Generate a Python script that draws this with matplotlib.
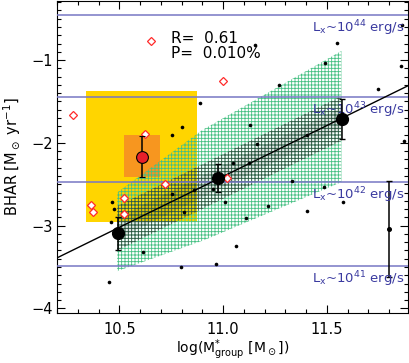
import matplotlib
matplotlib.use("Agg")
import matplotlib.pyplot as plt
from matplotlib.ticker import MultipleLocator
import numpy as np

plt.rcParams['font.family'] = ['DejaVu Sans']
plt.rcParams['mathtext.default'] = 'regular'
plt.rcParams['hatch.linewidth'] = 0.6

# ---- data ----
dots_x = [10.889, 10.80, 10.756, 11.152, 11.547, 11.49, 11.27, 11.747, 11.859, 11.87,
          11.13, 11.163, 11.402, 11.047, 11.127, 10.465, 10.475, 10.458, 10.755, 10.862,
          10.811, 10.612, 10.795, 10.45, 10.953, 11.01, 11.112, 11.216, 11.33, 11.402,
          11.486, 11.576, 11.061, 10.968, 11.86]
dots_y = [-1.52, -1.81, -1.90, -0.822, -0.79, -1.04, -1.30, -1.35, -1.07, -1.98,
          -1.78, -2.01, -1.90, -2.24, -2.24, -2.717, -2.80, -2.96, -2.62, -2.565,
          -2.84, -3.32, -3.50, -3.68, -2.556, -2.71, -2.91, -2.76, -2.46, -2.82,
          -2.53, -2.72, -3.25, -3.46, -0.577]

diam_x = [10.654, 10.277, 10.624, 11.001, 11.018, 10.365, 10.375, 10.524, 10.524, 10.721]
diam_y = [-0.774, -1.66, -1.895, -1.25, -2.43, -2.75, -2.84, -2.67, -2.86, -2.50]

big_x = [10.492, 10.978, 11.571]
big_y = [-3.09, -2.42, -1.715]
big_err = [0.20, 0.17, 0.24]

red_x = [10.61]
red_y = [-2.165]
red_err = [0.25]

lim_x = [11.8]
lim_y = [-3.04]
lim_lo = [0.58]
lim_hi = [0.58]

yellow_box = (10.34, 10.875, -2.96, -1.375)   # x0, x1, y0, y1
orange_box = (10.525, 10.695, -2.41, -1.91)

fit_slope = 1.23
fit_icpt = -3.39 - 1.23 * 10.2

green_x = [10.49, 10.90, 11.57, 11.57, 10.915, 10.49]
green_y = [-2.60, -1.845, -0.89, -2.475, -3.17, -3.55]

band_x = [10.49, 11.57]
band_half = 0.27

lx_levels = [-0.45, -1.45, -2.47, -3.49]
lx_labels = ['44', '43', '42', '41']

R_text = "R=  0.61"
P_text = "P=  0.010%"

# ---- figure ----
fig = plt.figure(figsize=(4.09, 3.63), dpi=100)
ax = fig.add_axes([57/409, (363-312.5)/363, (407.8-57)/409, 312/363])
ax.set_xlim(10.2, 11.89)
ax.set_ylim(-4.05, -0.28)

x0, x1, y0, y1 = yellow_box
ax.fill([x0, x1, x1, x0], [y0, y0, y1, y1], color='#ffd500', lw=0, zorder=1)
x0, x1, y0, y1 = orange_box
ax.fill([x0, x1, x1, x0], [y0, y0, y1, y1], color='#f7961f', lw=0, zorder=1.1)

ax.fill(green_x, green_y, facecolor='none', edgecolor='#45c083', hatch='+++++', lw=0, zorder=2)

bx = np.array(band_x)
by = fit_slope * bx + fit_icpt
ax.fill(np.r_[bx, bx[::-1]], np.r_[by + band_half, (by - band_half)[::-1]],
        facecolor='none', edgecolor='#222222', hatch='+++++', lw=0, zorder=2.2, alpha=0.65)
ax.fill(np.r_[bx, bx[::-1]], np.r_[by + 0.13, (by - 0.13)[::-1]],
        facecolor='#000000', alpha=0.10, lw=0, zorder=2.3)

for lv, lab in zip(lx_levels, lx_labels):
    ax.axhline(lv, color='#7777c4', lw=1.1, zorder=3)
    ax.text(0.992, lv - 0.16, r'L$_{\rm x}$~10$^{%s}$ erg/s' % lab, transform=ax.get_yaxis_transform(),
            ha='right', va='center', fontsize=9.5, color='#3a3aa0', zorder=6)

xl = np.array(ax.get_xlim())
ax.plot(xl, fit_slope * xl + fit_icpt, color='black', lw=1.0, zorder=4)

ax.plot(dots_x, dots_y, 'o', color='black', ms=2.6, mew=0, zorder=5)
ax.plot(diam_x, diam_y, 'D', mfc='white', mec='#ff2a2a', ms=4.5, mew=0.9, zorder=5)

ax.errorbar(lim_x, lim_y, yerr=[lim_lo, lim_hi], fmt='o', color='black', ms=2.6,
            elinewidth=1.1, capsize=2.5, capthick=1.0, zorder=5)
ax.errorbar(big_x, big_y, yerr=big_err, fmt='o', color='black', ms=8.5,
            elinewidth=1.1, capsize=2.5, capthick=1.0, zorder=6)
ax.errorbar(red_x, red_y, yerr=red_err, fmt='o', mfc='#e8202a', mec='black', ecolor='black',
            ms=8.5, mew=0.8, elinewidth=1.1, capsize=2.5, capthick=1.0, zorder=6)

ax.text(0.324, 0.877, R_text, transform=ax.transAxes, fontsize=11, va='center', ha='left')
ax.text(0.324, 0.829, P_text, transform=ax.transAxes, fontsize=11, va='center', ha='left')

ax.xaxis.set_major_locator(MultipleLocator(0.5))
ax.xaxis.set_minor_locator(MultipleLocator(0.1))
ax.yaxis.set_major_locator(MultipleLocator(1))
ax.yaxis.set_minor_locator(MultipleLocator(0.1))
ax.set_xticks([10.5, 11.0, 11.5])
ax.set_xticklabels(['10.5', '11.0', '11.5'])
ax.tick_params(which='both', direction='in', top=True, right=True, width=0.8)
ax.tick_params(which='major', length=6)
ax.tick_params(which='minor', length=3)
ax.tick_params(axis='x', which='major', labelsize=10.5, pad=7)
ax.tick_params(axis='y', which='major', labelsize=10.5, pad=3)
for s in ax.spines.values():
    s.set_linewidth(0.8)

ax.set_xlabel(r'log(M$^{*}_{\rm group}$ [M$_\odot$])', fontsize=10, labelpad=0)
ax.set_ylabel(r'BHAR [M$_\odot$ yr$^{-1}$]', fontsize=10.5, labelpad=6)

fig.savefig('out.png', dpi=100)
